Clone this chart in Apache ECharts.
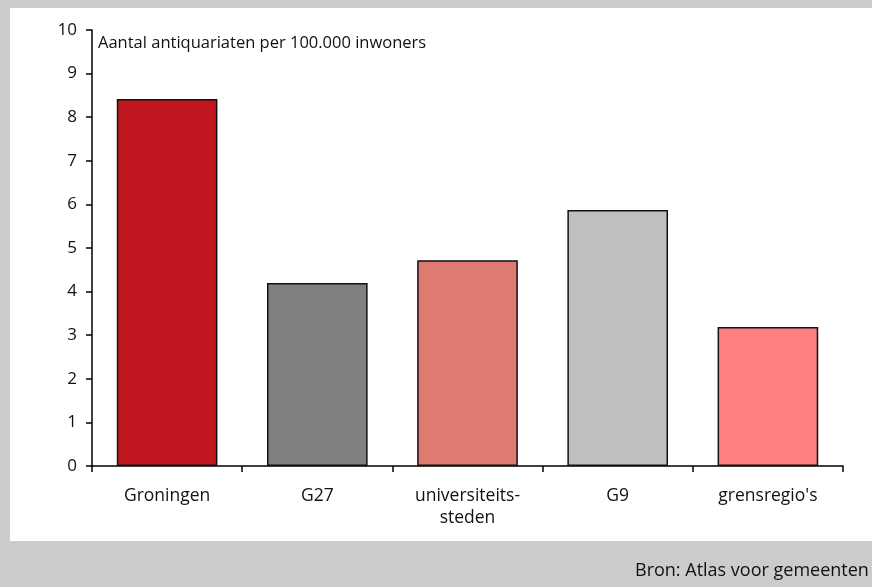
<!DOCTYPE html>
<html>
<head>
<meta charset="utf-8">
<script src="https://cdn.jsdelivr.net/npm/echarts@6/dist/echarts.min.js"></script>
<style>
  html, body { margin: 0; padding: 0; background: #cccccc; }
  .panel { position: absolute; left: 10px; top: 8px; width: 880px; height: 533px; background: #ffffff; }
  #chart { position: absolute; left: 0; top: 0; width: 872px; height: 587px; }
</style>
</head>
<body>
<div class="panel"></div>
<div id="chart"></div>
<script>
// categorieen en waarden
const categories = ['Groningen', 'G27', 'universiteits-\nsteden', 'G9', "grensregio's"]
const values = [8.42, 4.2, 4.72, 5.87, 3.19]
const barColors = ['#c0161f', '#808080', '#de7b70', '#c0c0c0', '#ff8080']
const yTicks = [0, 10, 1]

const chart = echarts.init(document.getElementById('chart'))
const font = "'Open Sans', 'DejaVu Sans', sans-serif"

const option = {
  backgroundColor: 'transparent',
  animation: false,
  grid: { left: 92, right: 29, top: 30, bottom: 121, containLabel: false },
  xAxis: {
    type: 'category',
    data: categories,
    axisLine: { lineStyle: { color: '#000', width: 1.5 } },
    axisTick: { show: true, length: 6, lineStyle: { color: '#000', width: 1.5 } },
    axisLabel: { color: '#111', fontSize: 17.5, fontFamily: font, margin: 19, lineHeight: 22 }
  },
  yAxis: {
    type: 'value',
    min: yTicks[0],
    max: yTicks[1],
    interval: yTicks[2],
    splitLine: { show: false },
    axisLine: { show: true, lineStyle: { color: '#000', width: 1.5 } },
    axisTick: { show: true, length: 6, lineStyle: { color: '#000', width: 1.5 } },
    axisLabel: { color: '#111', fontSize: 17, fontFamily: font, margin: 15 }
  },
  series: [
    {
      type: 'bar',
      barCategoryGap: '33%',
      data: values.map((v, i) => ({
        value: v,
        itemStyle: { color: barColors[i], borderColor: '#111', borderWidth: 1.5 }
      }))
    }
  ],
  graphic: [
    {
      type: 'text',
      left: 98,
      top: 35,
      style: { text: 'Aantal antiquariaten per 100.000 inwoners', fontSize: 16.5, fontFamily: font, fill: '#111' }
    },
    {
      type: 'text',
      left: 635,
      top: 562,
      style: { text: 'Bron: Atlas voor gemeenten', fontSize: 18, fontFamily: font, fill: '#111' }
    }
  ]
}
chart.setOption(option)
</script>
</body>
</html>
